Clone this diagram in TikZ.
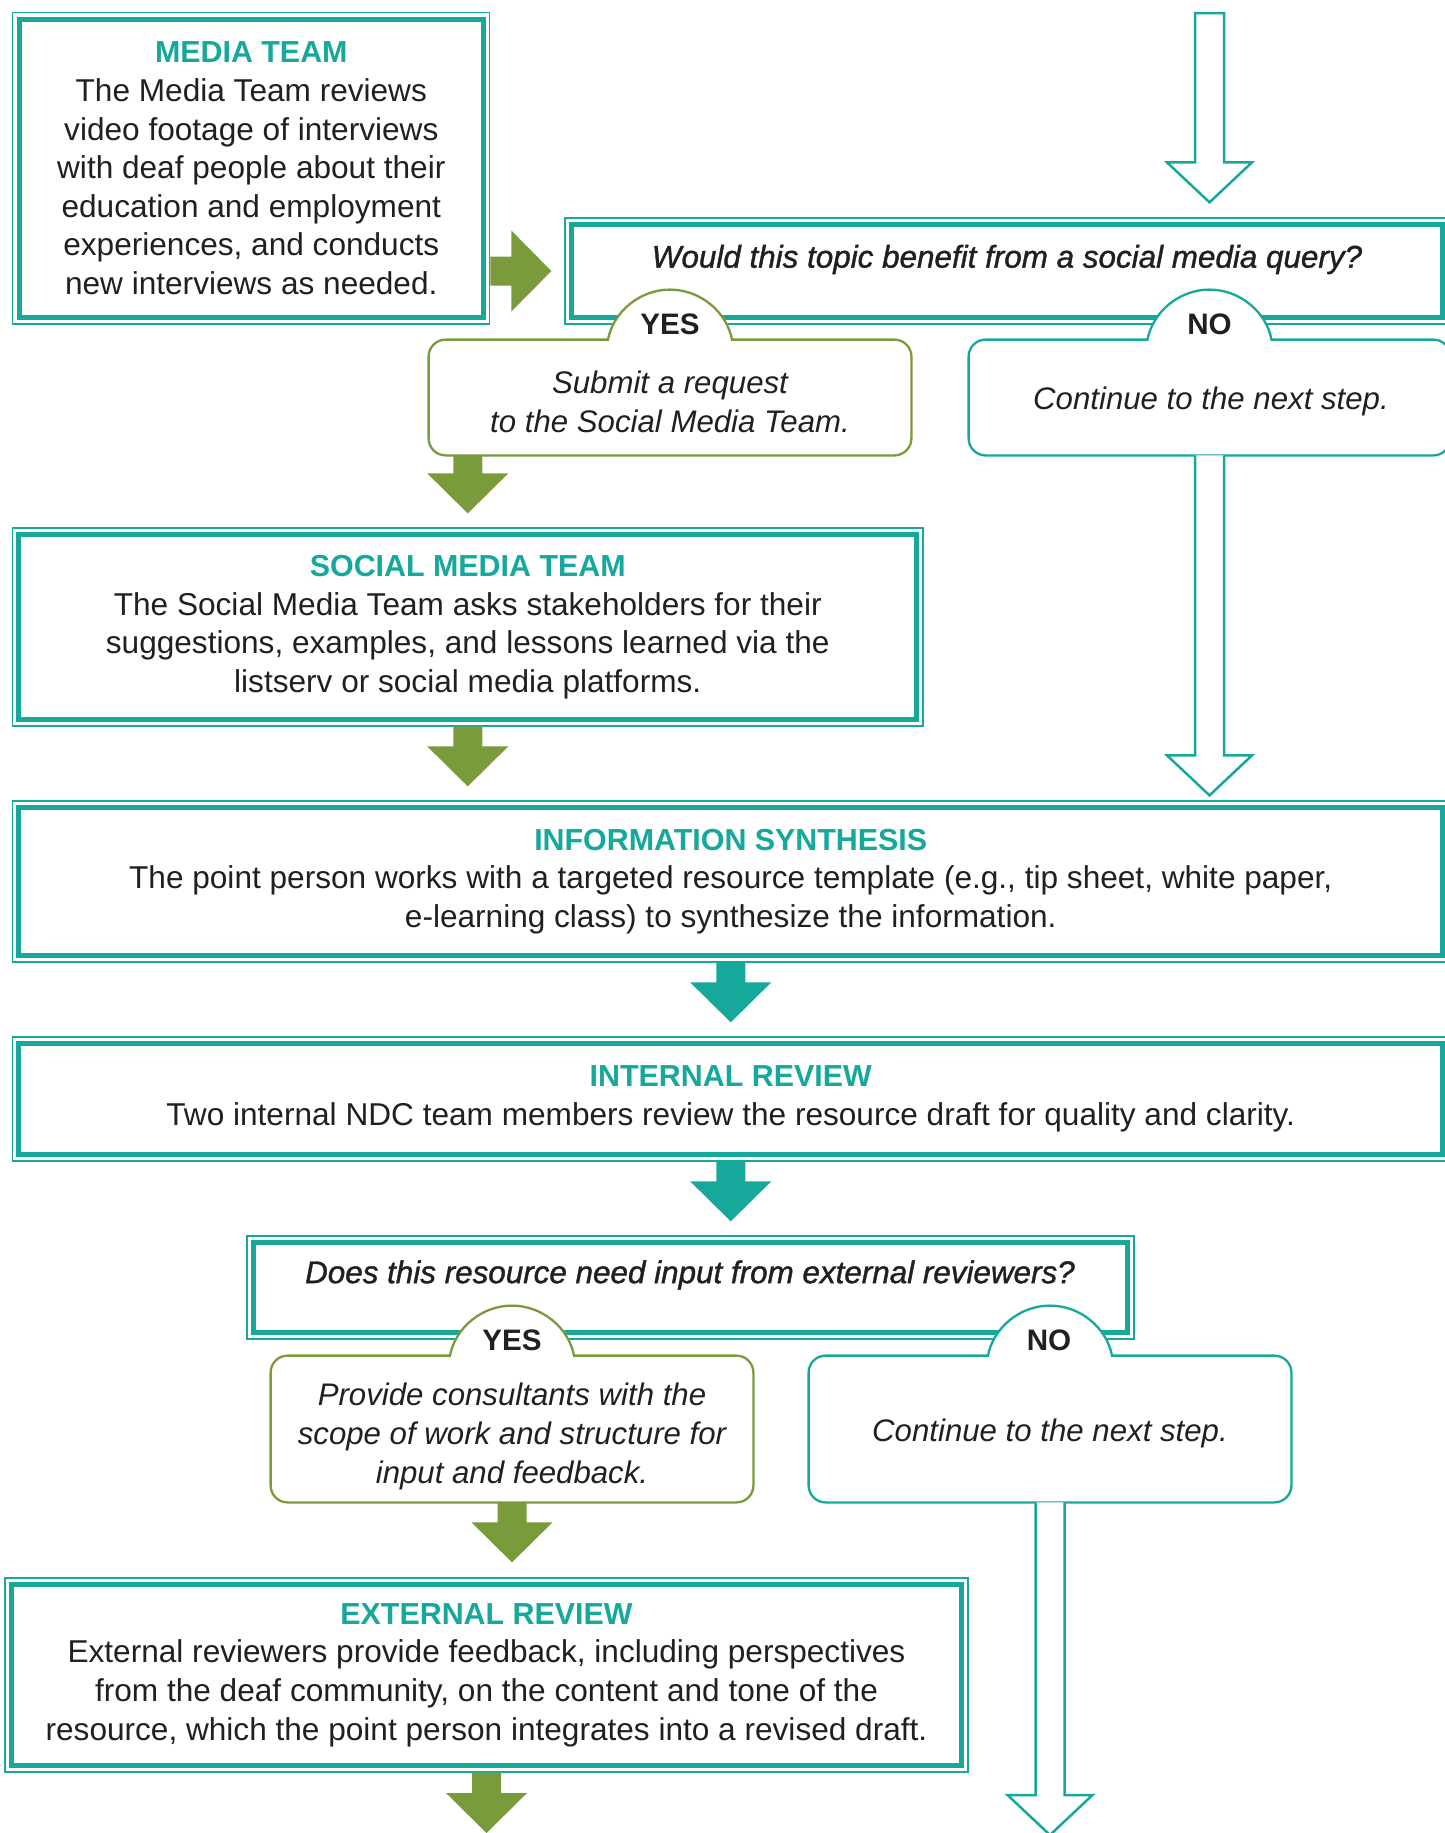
\documentclass[tikz,border=0pt]{standalone}
\usepackage{fontspec}
\setmainfont{Liberation Sans}
\newfontfamily\qfontfam{Liberation Sans}[ItalicFeatures={FakeBold=1.2}]
\usetikzlibrary{calc}
\definecolor{teal1}{HTML}{16A89B}
\definecolor{green1}{HTML}{7A9B3C}
\definecolor{ink}{HTML}{231F20}
\newcommand\bodyfont{\fontsize{15.8pt}{19.3pt}\selectfont}
\newcommand\itbodyfont{\fontsize{15.6pt}{19.3pt}\selectfont\itshape}
\newcommand\qfont{\qfontfam\fontsize{15.7pt}{19.3pt}\selectfont\itshape}
\newcommand\labfont{\fontsize{14.8pt}{17pt}\selectfont\bfseries}
\newcommand\boxtitle[1]{{\fontsize{15.2pt}{19.3pt}\selectfont\bfseries\color{teal1}#1}}
\tikzset{
 dbox/.style={draw=teal1, line width=0.65pt, fill=white, inner sep=0pt, align=center, text=ink, font=\bodyfont},
 thickin/.style={draw=teal1, line width=2.5pt},
 geom/.style={inner sep=0pt},
 txt/.style={align=center, text=ink, inner sep=0pt, font=\itbodyfont},
 qtxt/.style={align=center, text=ink, inner sep=0pt, font=\qfont},
 lab/.style={text=ink, inner sep=0pt, font=\labfont},
 tabline/.style={draw=#1, line width=1.15pt, fill=white, line join=miter},
 harrow/.style={draw=teal1, line width=1.25pt, fill=white, line join=miter},
}
\newcommand\innerframe[1]{\draw[thickin] ([shift={(7,7)}]#1.north west) rectangle ([shift={(-7,-7)}]#1.south east);}
\newcommand\sarrowdown[3]{\fill[#3] let \p1=(#1), \p2=(#2) in
 (\x1-7.25pt,\y1) -- (\x1-7.25pt,\y2+20pt) -- (\x1-20.25pt,\y2+20pt) -- (\x1,\y2) -- (\x1+20.25pt,\y2+20pt) -- (\x1+7.25pt,\y2+20pt) -- (\x1+7.25pt,\y1) -- cycle;}
\newcommand\harrowdown[3]{\draw[harrow] let \p1=(#1), \p2=(#2) in
 (\x1-7.25pt,\y1) -- (\x1-7.25pt,\y2+20pt) -- (\x1-21.25pt,\y2+20pt) -- (\x1,\y2) -- (\x1+21.25pt,\y2+20pt) -- (\x1+7.25pt,\y2+20pt) -- (\x1+7.25pt,\y1) #3;}
\newcommand\sarrowright[3]{\fill[#3] let \p1=(#1), \p2=(#2) in
 (\x1,\y1+7.25pt) -- (\x2-20pt,\y1+7.25pt) -- (\x2-20pt,\y1+20.25pt) -- (\x2,\y1) -- (\x2-20pt,\y1-20.25pt) -- (\x2-20pt,\y1-7.25pt) -- (\x1,\y1-7.25pt) -- cycle;}
\newcommand\tabbox[2]{\draw[tabline=#2] let \p1=(#1.north west), \p2=(#1.south east), \p3=(#1.north) in
 (\x3+31pt,\y1) -- (\x2-8.5pt,\y1) arc[start angle=90, end angle=0, radius=8.5pt]
 -- (\x2,\y2+8.5pt) arc[start angle=0, end angle=-90, radius=8.5pt]
 -- (\x1+8.5pt,\y2) arc[start angle=270, end angle=180, radius=8.5pt]
 -- (\x1,\y1-8.5pt) arc[start angle=180, end angle=90, radius=8.5pt]
 -- (\x3-31pt,\y1)
 .. controls (\x3-28.5pt,\y1+13.5pt) and (\x3-15.5pt,\y1+25pt) .. (\x3,\y1+25pt)
 .. controls (\x3+15.5pt,\y1+25pt) and (\x3+28.5pt,\y1+13.5pt) .. (\x3+31pt,\y1) -- cycle;}
\begin{document}
\begin{tikzpicture}[x=0.5pt,y=-0.5pt]
\useasboundingbox (0,0) rectangle (1445,1833);
\fill[white] (0,0) rectangle (1445,1833);
\clip (0,0) rectangle (1445,1833);

% boxes
\node[dbox, minimum width=238.5pt, minimum height=155.6pt] (media) at (251.3,168.4)
 {\boxtitle{MEDIA TEAM}\\The Media Team reviews\\video footage of interviews\\with deaf people about their\\education and employment\\experiences, and conducts\\new interviews as needed.};
\innerframe{media}

\node[dbox, minimum width=442pt, minimum height=53pt] (q1) at (1007,271) {};
\innerframe{q1}
\node[qtxt] (q1t) at (1007,259.5) {Would this topic benefit from a social media query?};

\node[geom, minimum width=241pt, minimum height=57.5pt] (yes1) at (670,397.5) {};
\tabbox{yes1}{green1}
\node[txt] (yes1t) at (670,402) {Submit a request\\to the Social Media Team.};
\node[lab] (yes1lab) at (670,324) {YES};

\node[geom, minimum width=240.5pt, minimum height=57.5pt] (no1) at (1209.5,397.5) {};
\tabbox{no1}{teal1}
\node[txt] (no1t) at (1211,401) {Continue to the next step.};
\node[lab] (no1lab) at (1209.5,324) {NO};

\node[dbox, minimum width=455.25pt, minimum height=99pt] (social) at (467.75,627)
 {\boxtitle{SOCIAL MEDIA TEAM}\\The Social Media Team asks stakeholders for their\\suggestions, examples, and lessons learned via the\\listserv or social media platforms.};
\innerframe{social}

\node[dbox, minimum width=718.25pt, minimum height=80.5pt] (info) at (730.75,881.5)
 {\boxtitle{INFORMATION SYNTHESIS}\\The point person works with a targeted resource template (e.g., tip sheet, white paper,\\e-learning class) to synthesize the information.};
\innerframe{info}

\node[dbox, minimum width=718.25pt, minimum height=62pt] (internal) at (730.75,1099)
 {\boxtitle{INTERNAL REVIEW}\\Two internal NDC team members review the resource draft for quality and clarity.};
\innerframe{internal}

\node[dbox, minimum width=443.5pt, minimum height=51.5pt] (q2) at (690.5,1287.5) {};
\innerframe{q2}
\node[qtxt] (q2t) at (690,1275) {Does this resource need input from external reviewers?};

\node[geom, minimum width=241pt, minimum height=73pt] (yes2) at (512,1429) {};
\tabbox{yes2}{green1}
\node[txt] (yes2t) at (512,1436.5) {Provide consultants with the\\scope of work and structure for\\input and feedback.};
\node[lab] (yes2lab) at (512,1340) {YES};

\node[geom, minimum width=241pt, minimum height=73pt] (no2) at (1050,1429) {};
\tabbox{no2}{teal1}
\node[txt] (no2t) at (1050,1433) {Continue to the next step.};
\node[lab] (no2lab) at (1049,1340) {NO};

\node[dbox, minimum width=481.5pt, minimum height=97pt] (external) at (486.5,1675)
 {\boxtitle{EXTERNAL REVIEW}\\External reviewers provide feedback, including perspectives\\from the deaf community, on the content and tone of the\\resource, which the point person integrates into a revised draft.};
\innerframe{external}

% coordinates for free ends
\coordinate (htop) at (1209.5,13);
\coordinate (endA) at (486.5,1833);
\coordinate (endB) at (1050,1835);

% connectors
\sarrowright{media.east |- q1.west}{[xshift=-6.5pt]q1.west}{green1}
\harrowdown{htop}{[yshift=7.5pt]q1.north}{-- cycle}
\sarrowdown{social.north |- yes1.south}{[yshift=7pt]social.north}{green1}
\harrowdown{no1.south}{[yshift=2.5pt]info.north}{}
\sarrowdown{social.south}{[yshift=7pt]info.north}{green1}
\sarrowdown{info.south}{[yshift=7pt]internal.north}{teal1}
\sarrowdown{internal.south}{[yshift=7pt]q2.north}{teal1}
\sarrowdown{yes2.south}{[yshift=7.5pt]external.north}{green1}
\harrowdown{no2.south}{endB}{}
\sarrowdown{external.south}{endA}{green1}
\end{tikzpicture}
\end{document}
